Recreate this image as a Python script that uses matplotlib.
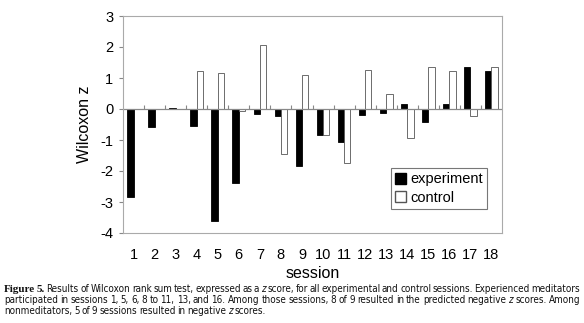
import matplotlib
matplotlib.use("Agg")
import matplotlib.pyplot as plt
import numpy as np
from matplotlib.patches import Patch
from matplotlib.font_manager import FontProperties, fontManager

sessions = [str(i) for i in range(1, 19)]
experiment = [-2.85, -0.58, 0.03, -0.55, -3.6, -2.4, -0.15, -0.22, -1.85,
              -0.85, -1.05, -0.2, -0.12, 0.15, -0.42, 0.17, 1.37, 1.23]
control = [0.0, 0.0, 0.0, 1.22, 1.17, -0.05, 2.05, -1.45, 1.1,
           -0.85, -1.75, 1.25, 0.47, -0.95, 1.37, 1.23, -0.22, 1.37]
yticks = [-4, -3, -2, -1, 0, 1, 2, 3]

W, H = 584, 323
fig = plt.figure(figsize=(W / 100, H / 100), dpi=100)
ax = fig.add_axes([123 / W, 1 - 233 / H, (502 - 123) / W, (233 - 16) / H])

sans = "Liberation Sans"
x = np.arange(1, len(sessions) + 1)
bw = 0.3
ax.bar(x - bw / 2, experiment, bw, color="black", edgecolor="black", linewidth=0.6, label="experiment")
ax.bar(x + bw / 2, control, bw, color="white", edgecolor="#555555", linewidth=0.6, label="control")

ax.set_xlim(0.5, len(sessions) + 0.5)
ax.set_ylim(-4, 3)
ax.set_yticks(yticks)
ax.set_yticklabels([str(v) for v in yticks], fontfamily=sans, fontsize=10.5)
ax.set_xticks(x)
ax.set_xticklabels(sessions, fontfamily=sans, fontsize=10.5)
ax.tick_params(axis="x", length=0, pad=11)
ax.tick_params(axis="y", length=3, color="#888888", pad=4)
for s in ax.spines.values():
    s.set_color("#aaaaaa")
    s.set_linewidth(0.8)

# category axis crossing at zero
ax.axhline(0, color="#888888", linewidth=0.9, zorder=1)
sec = ax.secondary_xaxis(4 / 7)
sec.set_xticks(np.arange(1.5, len(sessions), 1.0))
sec.set_xticklabels([])
sec.tick_params(axis="x", direction="out", length=3, color="#888888")
sec.spines["bottom"].set_visible(False)
sec.spines["top"].set_visible(False)

ax.set_xlabel("session", fontfamily=sans, fontsize=11.5, labelpad=3)
ax.set_ylabel("Wilcoxon z", fontfamily=sans, fontsize=11.5, labelpad=6)

handles = [Patch(facecolor="black", edgecolor="black"), Patch(facecolor="white", edgecolor="#555555")]
leg = ax.legend(handles, ["experiment", "control"], loc="lower left",
                bbox_to_anchor=((391 - 123) / (502 - 123), (233 - 209) / (233 - 16)),
                prop={"family": sans, "size": 10.5}, frameon=True, fancybox=False,
                handlelength=0.75, handleheight=0.75, handletextpad=0.25, borderpad=0.3,
                labelspacing=0.3, borderaxespad=0)
leg.get_frame().set_edgecolor("#555555")
leg.get_frame().set_linewidth(0.8)

# caption: find a condensed sans font if present
cond_reg = cond_it = None
for f in fontManager.ttflist:
    nm = (f.name + " " + f.fname).lower()
    if ("condensed" in nm or "narrow" in nm) and "serif" not in nm and "mono" not in nm:
        if f.weight in ("normal", 400, "regular", "book") and f.style == "normal" and cond_reg is None:
            cond_reg = f.fname
        if f.style in ("italic", "oblique") and f.weight in ("normal", 400, "regular", "book") and cond_it is None:
            cond_it = f.fname

cap_fs = 7.1 if cond_reg else 6.3
if cond_reg:
    fp_reg = FontProperties(fname=cond_reg, size=cap_fs)
    fp_it = FontProperties(fname=cond_it, size=cap_fs) if cond_it else FontProperties(fname=cond_reg, size=cap_fs)
else:
    fp_reg = FontProperties(family="Liberation Sans", size=cap_fs)
    fp_it = FontProperties(family="Liberation Sans", size=cap_fs, style="italic")
fp_bold = FontProperties(family=["Liberation Serif"], size=8.0, weight="bold")

def words(s, fp):
    return [(w, fp) for w in s.split()]

line1 = (words("Figure 5.", fp_bold) + words("Results of Wilcoxon rank sum test, expressed as a", fp_reg)
         + [("z", fp_it)] + words("score, for all experimental and control sessions. Experienced meditators", fp_reg))
line2 = (words("participated in sessions 1, 5, 6, 8 to 11, 13, and 16. Among those sessions, 8 of 9 resulted in the predicted negative", fp_reg)
         + [("z", fp_it)] + words("scores. Among", fp_reg))
line3 = (words("nonmeditators, 5 of 9 sessions resulted in negative", fp_reg) + [("z", fp_it)] + words("scores.", fp_reg))

renderer = fig.canvas.get_renderer()
left_px, right_px = 4, 580

def place(line, ypx, gap=None):
    texts = []
    widths = []
    for w, fp in line:
        t = fig.text(0, 1 - ypx / H, w, fontproperties=fp, va="baseline", ha="left", color="#111111")
        widths.append(t.get_window_extent(renderer).width)
        texts.append(t)
    if gap is None:
        gap = (right_px - left_px - sum(widths)) / (len(widths) - 1)
    xp = left_px
    for t, wd in zip(texts, widths):
        t.set_x(xp / W)
        xp += wd + gap
    return gap

g1 = place(line1, 292)
g2 = place(line2, 303)
place(line3, 314, gap=(g1 + g2) / 2)

fig.savefig("out.png", dpi=100)
